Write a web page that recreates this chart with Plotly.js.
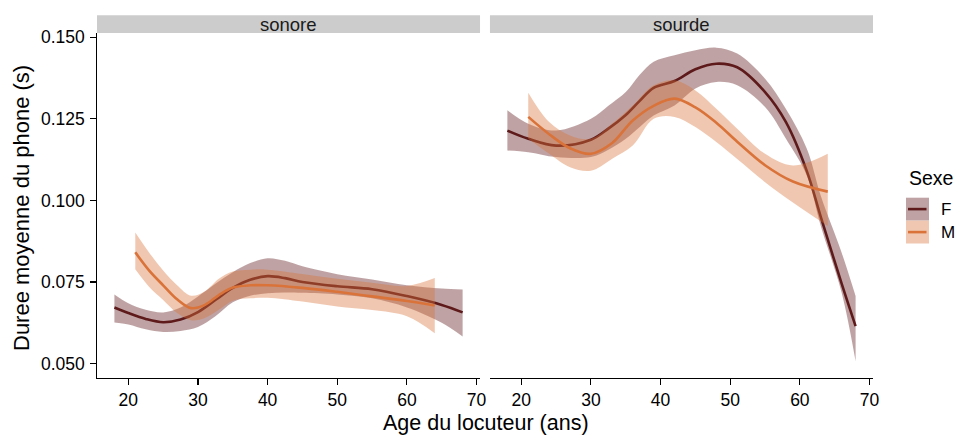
<!DOCTYPE html>
<html>
<head>
<meta charset="utf-8">
<script src="https://cdn.plot.ly/plotly-3.0.1.min.js"></script>
<style>html,body{margin:0;padding:0;background:#fff;}#chart{width:957px;height:437px;}</style>
</head>
<body>
<div id="chart"></div>
<script>
// ---- data ----
var panels = ["sonore", "sourde"];
var sexes = ["F", "M"];

// sonore, F
var sonoreF_age   = [18, 20, 22.5, 25, 27.5, 30, 32.5, 35, 37.5, 40, 42.5, 45, 50, 55, 60, 65, 68];
var sonoreF_mean  = [0.0672, 0.0655, 0.0637, 0.0627, 0.0635, 0.0658, 0.0695, 0.0732, 0.0757, 0.0768, 0.0762, 0.0750, 0.0737, 0.0728, 0.0707, 0.0680, 0.0657];
var sonoreF_upper = [0.0712, 0.0685, 0.0665, 0.0657, 0.0672, 0.0706, 0.0745, 0.0780, 0.0808, 0.0823, 0.0815, 0.0798, 0.0774, 0.0758, 0.0740, 0.0730, 0.0727];
var sonoreF_lower = [0.0626, 0.0620, 0.0605, 0.0597, 0.0600, 0.0612, 0.0645, 0.0688, 0.0708, 0.0716, 0.0718, 0.0717, 0.0712, 0.0700, 0.0672, 0.0625, 0.0583];

// sonore, M
var sonoreM_age   = [21, 23, 25, 27, 29, 31, 33, 35, 37.5, 40, 45, 50, 55, 60, 64];
var sonoreM_mean  = [0.0841, 0.0785, 0.0740, 0.0697, 0.0670, 0.0680, 0.0710, 0.0733, 0.0740, 0.0740, 0.0732, 0.0720, 0.0706, 0.0692, 0.0678];
var sonoreM_upper = [0.0902, 0.0840, 0.0785, 0.0740, 0.0708, 0.0722, 0.0760, 0.0782, 0.0788, 0.0788, 0.0775, 0.0760, 0.0748, 0.0738, 0.0762];
var sonoreM_lower = [0.0789, 0.0735, 0.0695, 0.0655, 0.0633, 0.0640, 0.0665, 0.0693, 0.0700, 0.0702, 0.0690, 0.0675, 0.0664, 0.0645, 0.0593];

// sourde, F
var sourdeF_age   = [18, 21, 25, 30, 32.5, 35, 37, 39, 42, 45, 48, 51, 55, 58, 61, 63, 66, 68];
var sourdeF_mean  = [0.1214, 0.1189, 0.1168, 0.1186, 0.1220, 0.1262, 0.1305, 0.1345, 0.1366, 0.1402, 0.1419, 0.1408, 0.1332, 0.1240, 0.1090, 0.0950, 0.0745, 0.0615];
var sourdeF_upper = [0.1276, 0.1235, 0.1214, 0.1250, 0.1290, 0.1332, 0.1385, 0.1425, 0.1445, 0.1460, 0.1468, 0.1450, 0.1373, 0.1280, 0.1158, 0.1014, 0.0840, 0.0707];
var sourdeF_lower = [0.1153, 0.1148, 0.1133, 0.1133, 0.1155, 0.1189, 0.1225, 0.1260, 0.1291, 0.1343, 0.1363, 0.1353, 0.1286, 0.1189, 0.1076, 0.0922, 0.0717, 0.0507];

// sourde, M
var sourdeM_age   = [21, 24, 27, 30, 33, 36, 39, 42, 45, 48, 51, 55, 59, 64];
var sourdeM_mean  = [0.1256, 0.1203, 0.1160, 0.1143, 0.1175, 0.1245, 0.1290, 0.1312, 0.1285, 0.1238, 0.1180, 0.1108, 0.1058, 0.1027];
var sourdeM_upper = [0.1330, 0.1240, 0.1199, 0.1189, 0.1235, 0.1291, 0.1353, 0.1368, 0.1337, 0.1281, 0.1220, 0.1143, 0.1107, 0.1143];
var sourdeM_lower = [0.1189, 0.1143, 0.1102, 0.1091, 0.1127, 0.1168, 0.1250, 0.1256, 0.1225, 0.1179, 0.1127, 0.1056, 0.0994, 0.0922];

var xTicks = [20, 30, 40, 50, 60, 70];
var yTicks = [0.050, 0.075, 0.100, 0.125, 0.150];
var yTickText = ["0.050", "0.075", "0.100", "0.125", "0.150"];

// ---- styling ----
var lineCol = {F: "#5E1A1B", M: "#D9733A"};
var fillCol = {F: "rgba(94,26,27,0.4)", M: "rgba(217,115,58,0.4)"};
var FONT = "Liberation Sans, Arial, Helvetica, sans-serif";

var series = [
  {panel: 0, sex: "F", age: sonoreF_age, mean: sonoreF_mean, up: sonoreF_upper, lo: sonoreF_lower},
  {panel: 0, sex: "M", age: sonoreM_age, mean: sonoreM_mean, up: sonoreM_upper, lo: sonoreM_lower},
  {panel: 1, sex: "F", age: sourdeF_age, mean: sourdeF_mean, up: sourdeF_upper, lo: sourdeF_lower},
  {panel: 1, sex: "M", age: sourdeM_age, mean: sourdeM_mean, up: sourdeM_upper, lo: sourdeM_lower}
];

var traces = [];
series.forEach(function(s) {
  var xa = s.panel === 0 ? "x" : "x2";
  var ya = s.panel === 0 ? "y" : "y2";
  traces.push({x: s.age, y: s.lo, xaxis: xa, yaxis: ya, type: "scatter", mode: "lines",
    line: {width: 0, shape: "spline", smoothing: 1}, showlegend: false, hoverinfo: "skip"});
  traces.push({x: s.age, y: s.up, xaxis: xa, yaxis: ya, type: "scatter", mode: "lines",
    line: {width: 0, shape: "spline", smoothing: 1}, fill: "tonexty", fillcolor: fillCol[s.sex],
    showlegend: false, hoverinfo: "skip"});
  traces.push({x: s.age, y: s.mean, xaxis: xa, yaxis: ya, type: "scatter", mode: "lines",
    line: {width: 2.6, color: lineCol[s.sex], shape: "spline", smoothing: 1}, showlegend: false, name: s.sex});
});

var xBase = {range: [15.5, 70.5], tickvals: xTicks, ticktext: xTicks.map(String), showgrid: false, zeroline: false,
  showline: true, linecolor: "#000", linewidth: 1.2, ticks: "outside", ticklen: 5.5, tickwidth: 1.1, tickcolor: "#000",
  tickfont: {family: FONT, size: 17.5, color: "#000"}, fixedrange: true};
var yRange = [0.0456, 0.1513];

var layout = {
  width: 957, height: 437,
  margin: {l: 97, r: 84, t: 33, b: 59},
  paper_bgcolor: "#fff", plot_bgcolor: "#fff",
  showlegend: false,
  xaxis: Object.assign({}, xBase, {domain: [0, 0.4936], anchor: "y"}),
  xaxis2: Object.assign({}, xBase, {domain: [0.5064, 1], anchor: "y2"}),
  yaxis: {range: yRange, tickvals: yTicks, ticktext: yTickText, showgrid: false, zeroline: false,
    showline: true, linecolor: "#000", linewidth: 1.2, ticks: "outside", ticklen: 5.5, tickwidth: 1.1, tickcolor: "#000",
    ticklabelstandoff: 2,
    tickfont: {family: FONT, size: 17.5, color: "#000"}, anchor: "x", domain: [0, 1]},
  yaxis2: {range: yRange, showticklabels: false, showgrid: false, zeroline: false, showline: false, ticks: "",
    anchor: "x2", domain: [0, 1]},
  shapes: [],
  annotations: []
};

// facet strips
var stripDomains = [[0, 0.4936], [0.5064, 1]];
panels.forEach(function(p, i) {
  layout.shapes.push({type: "rect", xref: "paper", yref: "paper", x0: stripDomains[i][0], x1: stripDomains[i][1],
    y0: 1.0, y1: 1.0513, fillcolor: "#CCCCCC", line: {width: 0}, layer: "below"});
  layout.annotations.push({xref: "paper", yref: "paper", x: (stripDomains[i][0] + stripDomains[i][1]) / 2, y: 1.026,
    text: p, showarrow: false, xanchor: "center", yanchor: "middle", font: {family: FONT, size: 18.5, color: "#1a1a1a"}});
});

// axis titles
layout.annotations.push({xref: "paper", yref: "paper", x: (486 - 97) / 776, y: (378 - 423) / 345, text: "Age du locuteur (ans)",
  showarrow: false, xanchor: "center", yanchor: "middle", font: {family: FONT, size: 21.5, color: "#000"}});
layout.annotations.push({xref: "paper", yref: "paper", x: -(97 - 21) / 776, y: (378 - 208) / 345, text: "Duree moyenne du phone (s)",
  showarrow: false, textangle: -90, xanchor: "center", yanchor: "middle", font: {family: FONT, size: 22, color: "#000"}});

// legend (ggplot-style keys)
layout.annotations.push({xref: "paper", yref: "paper", x: (907 - 97) / 776, y: (378 - 178) / 345, text: "Sexe",
  showarrow: false, xanchor: "left", yanchor: "middle", font: {family: FONT, size: 19.5, color: "#000"}});
var keyTop = [197.7, 220.7];
sexes.forEach(function(sx, i) {
  var y1 = (378 - keyTop[i]) / 345, y0 = (378 - keyTop[i] - 22.8) / 345, ym = (y0 + y1) / 2;
  layout.shapes.push({type: "rect", xref: "paper", yref: "paper", x0: (906 - 97) / 776, x1: (929 - 97) / 776,
    y0: y0, y1: y1, fillcolor: fillCol[sx], line: {width: 0}});
  layout.shapes.push({type: "line", xref: "paper", yref: "paper", x0: (908 - 97) / 776, x1: (926.5 - 97) / 776,
    y0: ym, y1: ym, line: {color: lineCol[sx], width: 2.6}});
  layout.annotations.push({xref: "paper", yref: "paper", x: (939 - 97) / 776, y: ym, text: sx, showarrow: false,
    xanchor: "left", yanchor: "middle", font: {family: FONT, size: 17, color: "#000"}});
});

Plotly.newPlot("chart", traces, layout, {displayModeBar: false, staticPlot: true});
</script>
</body>
</html>
